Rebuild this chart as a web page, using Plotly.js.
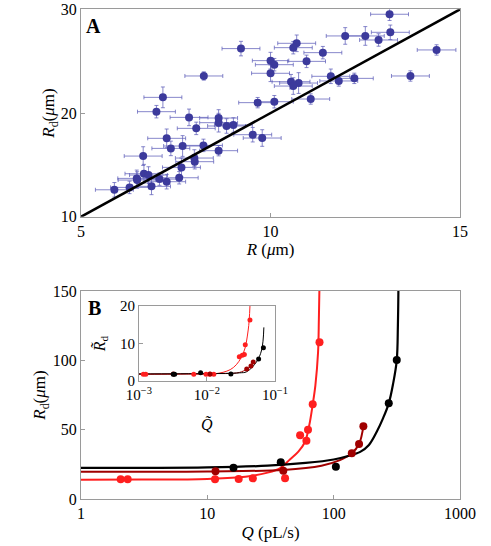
<!DOCTYPE html>
<html>
<head>
<meta charset="utf-8">
<script src="https://cdn.plot.ly/plotly-3.0.1.min.js"></script>
<style>
  html, body { margin: 0; padding: 0; background: #fff; }
  #chart { width: 491px; height: 546px; }
</style>
</head>
<body>
<div id="chart"></div>
<script>
// ---- Panel A: measured R vs Rd with error bars ----
var rVals = [13.14, 13.16, 12.50, 11.97, 12.85, 10.69, 10.60, 9.22, 14.38, 11.38,
             10.00, 10.10, 10.95, 10.00, 8.24, 11.59, 13.69, 12.21, 11.80, 10.54,
             10.74, 10.60, 7.16, 9.66, 10.10, 11.06, 6.99, 7.85, 8.63, 8.63,
             8.84, 9.02, 8.04, 9.53, 9.78, 7.26, 7.37, 7.68, 8.23, 8.63,
             6.64, 7.99, 8.00, 7.65, 6.66, 6.78, 6.47, 6.48, 7.07, 7.26,
             7.59, 6.28, 6.86, 5.88];
var rdVals = [29.52, 27.78, 27.43, 27.43, 27.04, 26.72, 26.30, 26.21, 26.08, 25.82,
              25.05, 24.66, 24.98, 23.83, 23.57, 23.54, 23.57, 23.34, 23.09, 23.02,
              22.89, 22.60, 21.51, 21.00, 21.09, 21.35, 20.13, 19.58, 19.52, 19.07,
              18.75, 18.84, 18.52, 17.91, 17.59, 17.56, 16.59, 16.82, 16.88, 16.37,
              15.85, 15.66, 15.31, 14.76, 14.15, 14.02, 13.70, 13.54, 13.63, 13.38,
              13.76, 12.83, 12.93, 12.60];
var rErr = [0.50, 0.50, 0.50, 0.50, 0.50, 0.50, 0.50, 0.50, 0.51, 0.50,
            0.48, 0.50, 0.50, 0.50, 0.50, 0.50, 0.50, 0.50, 0.50, 0.50,
            0.50, 0.50, 0.50, 0.50, 0.50, 0.50, 0.50, 0.50, 0.50, 0.50,
            0.50, 0.50, 0.50, 0.50, 0.50, 0.50, 0.50, 0.50, 0.50, 0.50,
            0.50, 0.50, 0.50, 0.50, 0.50, 0.50, 0.50, 0.50, 0.50, 0.50,
            0.50, 0.50, 0.50, 0.50];
var rdErr = [0.6, 0.7, 0.9, 0.8, 0.6, 0.8, 0.6, 0.7, 0.5, 0.6,
             0.8, 0.6, 0.6, 0.8, 0.4, 0.7, 0.5, 0.5, 0.5, 0.7,
             1.0, 0.8, 1.0, 0.5, 0.6, 0.5, 0.6, 0.8, 0.8, 0.9,
             0.7, 0.7, 0.6, 0.7, 0.8, 0.9, 0.7, 1.0, 0.6, 0.5,
             0.9, 0.8, 0.7, 0.9, 0.9, 0.8, 0.8, 0.8, 0.6, 0.7,
             0.6, 0.6, 0.8, 0.7];
var diagR = [5, 15];
var diagRd = [10, 30];

// ---- Panel B: Rd vs flow rate Q ----
var redQ = [2.06, 2.34, 11.5, 17.7, 22.9, 41.2, 54.2, 60.8, 62.6, 68.2, 77.2];
var redRd = [14.2, 14.2, 14.2, 14.4, 14.9, 14.9, 45.9, 42.0, 50.0, 68.3, 113.0];
var darkQ = [11.6, 39.9, 139.0, 158.7, 171.7];
var darkRd = [20.0, 20.4, 33.0, 39.7, 52.4];
var blackQ = [16.1, 38.1, 104.0, 272.7, 315.5];
var blackRd = [22.6, 26.5, 23.3, 69.0, 100.2];

var redFitQ = [1, 3, 10, 20, 30, 38, 45, 52.5, 59.3, 64.1, 68.2, 71.6, 75.2, 76.3, 77];
var redFitRd = [13.9, 14.0, 14.5, 16.0, 19.0, 22.5, 28.5, 34.1, 41.3, 53.4, 68.3, 82, 106, 130, 150];
var darkFitQ = [1, 10, 40, 80, 112, 139, 158.7, 171.7];
var darkFitRd = [19.6, 19.9, 21.0, 24.0, 28.0, 33.0, 39.7, 52.4];
var blackFitQ = [1, 10, 30, 60, 100, 130, 162, 190, 219, 245, 272.7, 295, 315.5, 322, 325];
var blackFitRd = [22.4, 22.8, 24.0, 26.0, 28.5, 31.0, 34.0, 39.0, 48.5, 58.0, 69.0, 83.0, 100.2, 125, 150];

// ---- Inset: dimensionless Rd~ vs Q~ ----
var inRedQ = [0.00116, 0.00126, 0.0064, 0.0097, 0.011, 0.0126, 0.0299, 0.0331, 0.0355, 0.0366, 0.0429];
var inRedRd = [1.8, 1.8, 1.8, 1.8, 1.8, 1.8, 6.5, 6.9, 7.1, 9.7, 16.3];
var inDarkQ = [0.0032, 0.0111, 0.0384, 0.0444, 0.0479];
var inDarkRd = [1.9, 1.9, 3.2, 4.0, 5.1];
var inBlackQ = [0.00319, 0.00335, 0.00807, 0.0225, 0.0575, 0.0676];
var inBlackRd = [1.8, 1.8, 2.2, 1.9, 5.9, 8.9];

var inRedFitQ = [0.001, 0.005, 0.015, 0.0244, 0.0342, 0.0404, 0.0429];
var inRedFitRd = [1.8, 1.9, 2.1, 3.6, 7.4, 13.6, 20];
var inDarkFitQ = [0.001, 0.01, 0.03, 0.0384, 0.0444, 0.0479];
var inDarkFitRd = [1.9, 2.0, 2.3, 3.2, 4.0, 5.1];
var inBlackFitQ = [0.001, 0.01, 0.03, 0.0384, 0.0535, 0.0637, 0.0687];
var inBlackFitRd = [1.9, 2.0, 2.2, 2.5, 5.1, 8.3, 14.3];

var RED = '#ff1f1f', DARK = '#a00000', BLK = '#000000';
var SERIF = 'Liberation Serif';

var traces = [
  {
    x: rVals, y: rdVals, type: 'scatter', mode: 'markers',
    xaxis: 'x', yaxis: 'y',
    marker: {color: '#3c3a9c', size: 8},
    error_x: {type: 'data', array: rErr, color: 'rgba(95,95,185,0.75)', thickness: 1, width: 2},
    error_y: {type: 'data', array: rdErr, color: 'rgba(95,95,185,0.75)', thickness: 1, width: 2}
  },
  {
    x: diagR, y: diagRd, type: 'scatter', mode: 'lines',
    xaxis: 'x', yaxis: 'y',
    line: {color: '#000', width: 2.5}
  },

  // main panel B curves
  {x: redFitQ, y: redFitRd, xaxis: 'x2', yaxis: 'y2', mode: 'lines', line: {color: RED, width: 2, shape: 'spline'}},
  {x: darkFitQ, y: darkFitRd, xaxis: 'x2', yaxis: 'y2', mode: 'lines', line: {color: DARK, width: 2, shape: 'spline'}},
  {x: blackFitQ, y: blackFitRd, xaxis: 'x2', yaxis: 'y2', mode: 'lines', line: {color: BLK, width: 2.2, shape: 'spline'}},
  {x: redQ, y: redRd, xaxis: 'x2', yaxis: 'y2', mode: 'markers', marker: {color: RED, size: 8}},
  {x: darkQ, y: darkRd, xaxis: 'x2', yaxis: 'y2', mode: 'markers', marker: {color: DARK, size: 8}},
  {x: blackQ, y: blackRd, xaxis: 'x2', yaxis: 'y2', mode: 'markers', marker: {color: BLK, size: 8}},

  // inset
  {x: inRedFitQ, y: inRedFitRd, xaxis: 'x3', yaxis: 'y3', mode: 'lines', line: {color: RED, width: 1, shape: 'spline'}},
  {x: inDarkFitQ, y: inDarkFitRd, xaxis: 'x3', yaxis: 'y3', mode: 'lines', line: {color: DARK, width: 1, shape: 'spline'}},
  {x: inBlackFitQ, y: inBlackFitRd, xaxis: 'x3', yaxis: 'y3', mode: 'lines', line: {color: BLK, width: 1, shape: 'spline'}},
  {x: inRedQ, y: inRedRd, xaxis: 'x3', yaxis: 'y3', mode: 'markers', marker: {color: RED, size: 5}},
  {x: inDarkQ, y: inDarkRd, xaxis: 'x3', yaxis: 'y3', mode: 'markers', marker: {color: DARK, size: 5}},
  {x: inBlackQ, y: inBlackRd, xaxis: 'x3', yaxis: 'y3', mode: 'markers', marker: {color: BLK, size: 5}}
];

function frame(extra) {
  var ax = {
    showline: true, mirror: true, linecolor: '#9a9a9a', linewidth: 1,
    ticks: 'inside', ticklen: 4, tickcolor: '#9a9a9a',
    showgrid: false, zeroline: false,
    tickfont: {family: SERIF, size: 16, color: '#000'}
  };
  for (var k in extra) ax[k] = extra[k];
  return ax;
}

var titleFont = {family: SERIF, size: 17, color: '#000'};

var layout = {
  width: 491, height: 546,
  margin: {l: 0, r: 0, t: 0, b: 0},
  paper_bgcolor: '#fff', plot_bgcolor: 'rgba(0,0,0,0)',
  showlegend: false, hovermode: false,
  font: {family: SERIF, color: '#000'},

  xaxis: frame({domain: [0.165, 0.937], anchor: 'y', range: [5, 15], tickvals: [5, 10, 15],
                title: {text: '<i>R</i> (<i>μ</i>m)', font: titleFont, standoff: 4}}),
  yaxis: frame({domain: [0.603, 0.983], anchor: 'x', range: [10, 30], tickvals: [10, 20, 30],
                title: {text: '<i>R</i><sub>d</sub>(<i>μ</i>m)', font: titleFont, standoff: 0}}),

  xaxis2: frame({domain: [0.165, 0.937], anchor: 'y2', type: 'log', range: [0, 3],
                 tickvals: [1, 10, 100, 1000], ticktext: ['1', '10', '100', '1000'],
                 title: {text: '<i>Q</i> (pL/s)', font: titleFont, standoff: 4}}),
  yaxis2: frame({domain: [0.0861, 0.467], anchor: 'x2', range: [0, 150], tickvals: [0, 50, 100, 150],
                 title: {text: '<i>R</i><sub>d</sub>(<i>μ</i>m)', font: titleFont, standoff: 2}}),

  xaxis3: frame({domain: [0.283, 0.560], anchor: 'y3', type: 'log', range: [-3, -1],
                 tickvals: [0.001, 0.01, 0.1],
                 ticktext: ['10<sup>−3</sup>', '10<sup>−2</sup>', '10<sup>−1</sup>'],
                 tickfont: {family: SERIF, size: 15, color: '#000'}}),
  yaxis3: frame({domain: [0.302, 0.4396], anchor: 'x3', range: [0, 20], tickvals: [0, 10, 20],
                 tickfont: {family: SERIF, size: 15, color: '#000'},
                 title: {text: '<i>R̃</i><sub>d</sub>', font: {family: SERIF, size: 16}, standoff: 10}}),

  annotations: [
    {text: '<b>A</b>', xref: 'paper', yref: 'paper', x: 93 / 491, y: 1 - 26 / 546,
     xanchor: 'center', yanchor: 'middle', showarrow: false, font: {family: SERIF, size: 20}},
    {text: '<b>B</b>', xref: 'paper', yref: 'paper', x: 94 / 491, y: 1 - 308 / 546,
     xanchor: 'center', yanchor: 'middle', showarrow: false, font: {family: SERIF, size: 20}},
    {text: '<i>Q̃</i>', xref: 'paper', yref: 'paper', x: 207 / 491, y: 1 - 424 / 546,
     xanchor: 'center', yanchor: 'middle', showarrow: false, font: {family: SERIF, size: 16}}
  ]
};

Plotly.newPlot('chart', traces, layout, {staticPlot: true, displayModeBar: false});
</script>
</body>
</html>
